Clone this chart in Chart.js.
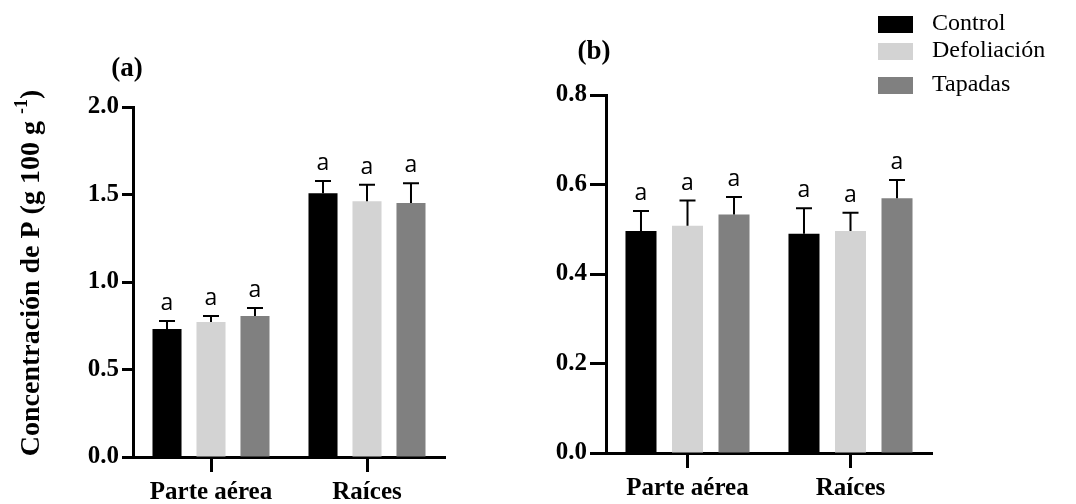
<!DOCTYPE html>
<html>
<head>
<meta charset="utf-8">
<script src="https://cdn.jsdelivr.net/npm/chart.js@4"></script>
<style>
html, body { margin: 0; padding: 0; background: #fff; }
#wrap { position: relative; width: 1076px; height: 504px; }
#boxA { position: absolute; left: 0; top: 0; width: 520px; height: 504px; }
#boxB { position: absolute; left: 520px; top: 0; width: 556px; height: 504px; }
</style>
</head>
<body>
<div id="wrap">
  <div id="boxA"><canvas id="chartA"></canvas></div>
  <div id="boxB"><canvas id="chartB"></canvas></div>
</div>
<script>
const categories = ['Parte aérea', 'Raíces'];
const seriesNames = ['Control', 'Defoliación', 'Tapadas'];
const seriesColors = ['#000000', '#d3d3d3', '#808080'];

// panel (a): means and upper error
const aControl = [0.731, 1.507];
const aDefoliacion = [0.771, 1.461];
const aTapadas = [0.806, 1.451];
const aControlErr = [0.046, 0.070];
const aDefoliacionErr = [0.035, 0.095];
const aTapadasErr = [0.045, 0.113];
const aTicks = [0, 0.5, 1.0, 1.5, 2.0];

// panel (b)
const bControl = [0.496, 0.490];
const bDefoliacion = [0.508, 0.496];
const bTapadas = [0.533, 0.569];
const bControlErr = [0.045, 0.057];
const bDefoliacionErr = [0.056, 0.041];
const bTapadasErr = [0.039, 0.041];
const bTicks = [0, 0.2, 0.4, 0.6, 0.8];

// significance letters (same for every bar)
const letters = ['a', 'a'];

Chart.defaults.font.family = 'Liberation Serif';
Chart.defaults.color = '#000';

const serifBold = size => ({ family: 'Liberation Serif', weight: 'bold', size: size });

function makeDatasets(values, errors) {
  return values.map((v, i) => ({
    label: seriesNames[i],
    data: v,
    errors: errors[i],
    letters: letters,
    backgroundColor: seriesColors[i],
    borderWidth: 0
  }));
}

// upper error bars + letters over each bar
const errorBars = {
  id: 'errorBars',
  afterDatasetsDraw(chart) {
    const ctx = chart.ctx;
    const y = chart.scales.y;
    chart.data.datasets.forEach((ds, i) => {
      chart.getDatasetMeta(i).data.forEach((bar, j) => {
        const yTop = y.getPixelForValue(ds.data[j] + ds.errors[j]);
        ctx.save();
        ctx.strokeStyle = '#000';
        ctx.lineWidth = 2;
        ctx.beginPath();
        ctx.moveTo(bar.x, bar.y);
        ctx.lineTo(bar.x, yTop);
        ctx.moveTo(bar.x - 8, yTop);
        ctx.lineTo(bar.x + 8, yTop);
        ctx.stroke();
        ctx.fillStyle = '#000';
        ctx.font = '23px "Open Sans"';
        ctx.textAlign = 'center';
        ctx.textBaseline = 'alphabetic';
        ctx.fillText(ds.letters[j], bar.x, yTop - 11);
        ctx.restore();
      });
    });
  }
};

// panel tag, y title, legend
const decorations = {
  id: 'decorations',
  afterDraw(chart, args, opts) {
    const ctx = chart.ctx;
    ctx.save();
    ctx.fillStyle = '#000';
    ctx.textAlign = 'center';
    ctx.textBaseline = 'middle';
    ctx.font = 'bold 27px "Liberation Serif"';
    ctx.fillText(opts.tag, opts.tagX, opts.tagY);

    if (opts.yTitle) {
      ctx.translate(opts.yTitle.x, opts.yTitle.y);
      ctx.rotate(-Math.PI / 2);
      const main = 'Concentración de P (g 100 g ';
      const big = 'bold 28px "Liberation Serif"';
      const small = 'bold 18px "Liberation Serif"';
      ctx.font = big;
      const w1 = ctx.measureText(main).width;
      const w3 = ctx.measureText(')').width;
      ctx.font = small;
      const w2 = ctx.measureText('-1').width;
      let x = -(w1 + w2 + w3) / 2;
      ctx.textAlign = 'left';
      ctx.font = big;
      ctx.fillText(main, x, 0);
      x += w1;
      ctx.font = small;
      ctx.fillText('-1', x, -10);
      x += w2;
      ctx.font = big;
      ctx.fillText(')', x, 0);
    }

    if (opts.legend) {
      const L = opts.legend;
      ctx.textAlign = 'left';
      ctx.font = '24px "Liberation Serif"';
      chart.data.datasets.forEach((ds, i) => {
        const cy = L.rows[i];
        ctx.fillStyle = ds.backgroundColor;
        ctx.fillRect(L.x, cy - 8, 35, 17);
        ctx.fillStyle = '#000';
        ctx.fillText(ds.label, L.x + 54, cy);
      });
    }
    ctx.restore();
  }
};

function scales(tickList, maxV, yWidth, xHeight, yTickLen) {
  return {
    x: {
      afterFit: s => { s.height = xHeight; },
      border: { display: true, color: '#000', width: 3 },
      grid: { display: true, drawOnChartArea: false, offset: false, tickLength: 15, tickWidth: 3, tickColor: '#000' },
      ticks: { color: '#000', font: serifBold(25), padding: 6, maxRotation: 0 }
    },
    y: {
      min: 0,
      max: maxV,
      afterBuildTicks: s => { s.ticks = tickList.map(v => ({ value: v })); },
      afterFit: s => { s.width = yWidth; },
      border: { display: true, color: '#000', width: 3 },
      grid: { display: true, drawOnChartArea: false, tickLength: yTickLen, tickWidth: 3, tickColor: '#000' },
      ticks: { color: '#000', font: serifBold(25), padding: 3, callback: v => Number(v).toFixed(1) }
    }
  };
}

new Chart(document.getElementById('chartA'), {
  type: 'bar',
  data: {
    labels: categories,
    datasets: makeDatasets([aControl, aDefoliacion, aTapadas], [aControlErr, aDefoliacionErr, aTapadasErr])
  },
  options: {
    responsive: true,
    maintainAspectRatio: false,
    animation: false,
    devicePixelRatio: 1,
    categoryPercentage: 0.846,
    barPercentage: 0.66,
    layout: { padding: { top: 107, right: 75, left: 0, bottom: 0 } },
    plugins: {
      legend: { display: false },
      tooltip: { enabled: false },
      decorations: { tag: '(a)', tagX: 127, tagY: 69, yTitle: { x: 32, y: 273 } }
    },
    scales: scales(aTicks, 2.0, 133, 47, 11)
  },
  plugins: [errorBars, decorations]
});

new Chart(document.getElementById('chartB'), {
  type: 'bar',
  data: {
    labels: categories,
    datasets: makeDatasets([bControl, bDefoliacion, bTapadas], [bControlErr, bDefoliacionErr, bTapadasErr])
  },
  options: {
    responsive: true,
    maintainAspectRatio: false,
    animation: false,
    devicePixelRatio: 1,
    categoryPercentage: 0.856,
    barPercentage: 0.667,
    layout: { padding: { top: 95, right: 144, left: 0, bottom: 0 } },
    plugins: {
      legend: { display: false },
      tooltip: { enabled: false },
      decorations: { tag: '(b)', tagX: 74, tagY: 52, legend: { x: 358, rows: [24, 51, 85] } }
    },
    scales: scales(bTicks, 0.8, 86, 51, 16)
  },
  plugins: [errorBars, decorations]
});
</script>
</body>
</html>
